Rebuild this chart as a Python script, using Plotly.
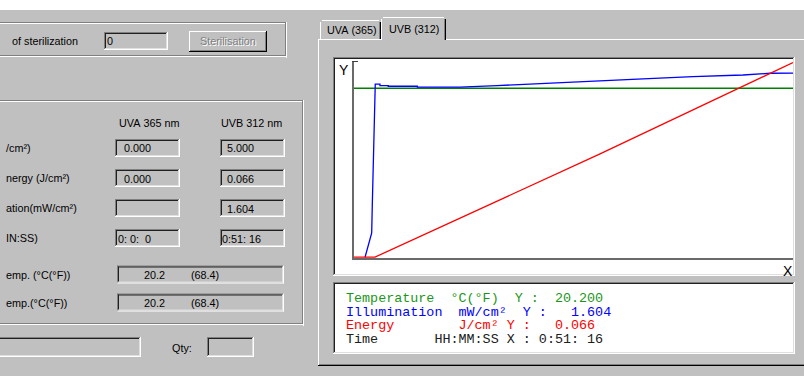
import plotly.graph_objects as go

W, H = 804, 376

# ---------------- data ----------------
temp_time = [0, 3076]
temperature = [20.2, 20.2]

illum_time = [77, 124, 128, 135, 142, 149, 182, 182, 240, 240, 444, 444, 603,
              743, 1002, 1324, 1675, 2025, 2375, 2726, 2915, 3076]
illumination = [0, 0.214, 0.445, 0.865, 1.298, 1.507, 1.507, 1.495, 1.495, 1.489,
                1.489, 1.481, 1.481, 1.481, 1.495, 1.512, 1.529, 1.553, 1.573,
                1.587, 1.602, 1.604]

energy_time = [0, 147, 1724, 3076]
energy = [0, 0, 0.0350, 0.066]

row_labels = ["/cm²)", "nergy (J/cm²)", "ation(mW/cm²)", "IN:SS)"]
uva_values = ["0.000", "0.000", "", "0: 0:  0"]
uvb_values = ["5.000", "0.066", "1.604", "0:51: 16"]
temp_labels = ["emp. (°C(°F))", "emp.(°C(°F))"]
temp_c = ["20.2", "20.2"]
temp_f = ["(68.4)", "(68.4)"]
tab_labels = ["UVA (365)", "UVB (312)"]

legend_lines = [
    ("Temperature  °C(°F)  Y :  20.200", "#1a961a"),
    ("Illumination  mW/cm²  Y :   1.604", "#0000ff"),
    ("Energy        J/cm² Y :   0.066", "#ff0000"),
    ("Time       HH:MM:SS X : 0:51: 16", "#202020"),
]

# ---------------- helpers ----------------
shapes = []
annos = []
UI = "Liberation Sans"
MONO = "Liberation Mono"


def px(x):
    return x / W


def py(y):
    return 1 - y / H


def rect(x0, y0, x1, y1, fill, layer="below"):
    shapes.append(dict(type="rect", xref="paper", yref="paper",
                       x0=px(x0), x1=px(x1), y0=py(y0), y1=py(y1),
                       fillcolor=fill, line=dict(width=0), layer=layer))


def line(x0, y0, x1, y1, color, w=1, layer="below"):
    shapes.append(dict(type="line", xref="paper", yref="paper",
                       x0=px(x0), x1=px(x1), y0=py(y0), y1=py(y1),
                       line=dict(color=color, width=w), layer=layer))


def sunken(x0, y0, x1, y1, fill="#c0c0c0"):
    rect(x0, y0, x1, y1, fill)
    line(x0, y0 + 0.5, x1, y0 + 0.5, "#808080")
    line(x0 + 0.5, y0, x0 + 0.5, y1, "#808080")
    line(x0 + 1, y0 + 1.5, x1 - 1, y0 + 1.5, "#202020")
    line(x0 + 1.5, y0 + 1, x0 + 1.5, y1 - 1, "#202020")
    line(x0, y1 - 0.5, x1, y1 - 0.5, "#ffffff")
    line(x1 - 0.5, y0, x1 - 0.5, y1, "#ffffff")
    line(x0 + 1, y1 - 1.5, x1 - 1, y1 - 1.5, "#dfdfdf")
    line(x1 - 1.5, y0 + 1, x1 - 1.5, y1 - 1, "#dfdfdf")


def raised(x0, y0, x1, y1):
    rect(x0, y0, x1, y1, "#c0c0c0")
    line(x0, y0 + 0.5, x1, y0 + 0.5, "#ffffff")
    line(x0 + 0.5, y0, x0 + 0.5, y1, "#ffffff")
    line(x0, y1 - 0.5, x1, y1 - 0.5, "#000000")
    line(x1 - 0.5, y0, x1 - 0.5, y1, "#000000")
    line(x0 + 1, y1 - 1.5, x1 - 1, y1 - 1.5, "#808080")
    line(x1 - 1.5, y0 + 1, x1 - 1.5, y1 - 1, "#808080")


def etched_group(x0, y0, x1, y1):
    line(x0, y0 + 0.5, x1, y0 + 0.5, "#808080")
    line(x0, y0 + 1.5, x1 - 1, y0 + 1.5, "#ffffff")
    line(x1 - 1.5, y0, x1 - 1.5, y1, "#808080")
    line(x1 - 0.5, y0, x1 - 0.5, y1 + 1, "#ffffff")
    line(x0, y1 - 1.5, x1 - 1, y1 - 1.5, "#808080")
    line(x0, y1 - 0.5, x1, y1 - 0.5, "#ffffff")


def text(x, y, s, size=10.8, color="#000000", anchor="left", font=UI):
    annos.append(dict(xref="paper", yref="paper", x=px(x), y=py(y),
                      text=s.replace(" ", "\u00a0"), showarrow=False,
                      xanchor=anchor, yanchor="middle", borderpad=0,
                      font=dict(family=font, size=size, color=color)))


# ---------------- window chrome ----------------
rect(0, 0, W, 10, "#ffffff")

# sterilisation group
etched_group(-5, 22, 287, 57)
text(11, 41, "of sterilization")
sunken(104, 32, 168, 50)
text(106, 41, "0")
raised(189, 31, 267, 52)
text(229, 42.5, "Sterilisation", color="#ffffff", anchor="center")
text(228, 41.5, "Sterilisation", color="#808080", anchor="center")

# values group
etched_group(-5, 100, 304, 325)
text(149, 122.5, "UVA 365 nm", anchor="center")
text(251, 122.5, "UVB 312 nm", anchor="center")
for i, lab in enumerate(row_labels):
    yc = 148 + 30 * i
    text(5, yc, lab)
    sunken(115, yc - 9, 180, yc + 9)
    sunken(220, yc - 9, 285, yc + 9)
    if uva_values[i]:
        text(117 if ":" in uva_values[i] else 123, yc + 0.5, uva_values[i])
    text(221 if ":" in uvb_values[i] else 225.5, yc + 0.5, uvb_values[i])
for i, lab in enumerate(temp_labels):
    yc = 274.5 + 28 * i
    text(5, yc, lab)
    sunken(117, yc - 9, 284, yc + 9)
    text(143, yc + 0.5, temp_c[i])
    text(190, yc + 0.5, temp_f[i])

# bottom row
sunken(-4, 337, 141, 357)
text(171, 348, "Qty:")
sunken(207, 337, 254, 357)

# ---------------- tab control ----------------
line(318.5, 39, 318.5, 365, "#ffffff")
line(318, 39.5, W, 39.5, "#ffffff")
line(319, 364.5, W, 364.5, "#808080")
line(318, 365.5, W, 365.5, "#000000")
# UVA tab (inactive)
line(320.5, 22, 320.5, 39, "#ffffff")
line(322, 20.5, 379, 20.5, "#ffffff")
line(379.5, 22, 379.5, 39, "#808080")
line(380.5, 22, 380.5, 39, "#000000")
text(351.5, 30, tab_labels[0], anchor="center")
# UVB tab (active)
rect(382, 18, 445, 41, "#c0c0c0")
line(381.5, 19, 381.5, 40, "#ffffff")
line(383, 17.5, 444, 17.5, "#ffffff")
line(444.5, 19, 444.5, 40, "#808080")
line(445.5, 19, 445.5, 40, "#000000")
text(413.5, 28.5, tab_labels[1], anchor="center")

# chart box and legend box
sunken(333, 57, 795, 276, fill="#ffffff")
sunken(333, 282, 795, 354, fill="#ffffff")

# axis top tick, axis letters
line(352, 61.5, 358, 61.5, "#404040", w=1, layer="above")
text(343.5, 70, "Y", size=14, anchor="center")
text(788, 271, "X", size=14, anchor="center")

for i, (s, c) in enumerate(legend_lines):
    text(345, 298.5 + 13.6 * i, s, size=13.4, color=c, font=MONO)

# ---------------- chart ----------------
fig = go.Figure()
fig.add_trace(go.Scatter(x=temp_time, y=temperature, mode="lines",
                         line=dict(color="#008000", width=1.3), yaxis="y"))
fig.add_trace(go.Scatter(x=energy_time, y=energy, mode="lines",
                         line=dict(color="#ff0000", width=1.3), yaxis="y3"))
fig.add_trace(go.Scatter(x=illum_time, y=illumination, mode="lines",
                         line=dict(color="#0000ff", width=1.3), yaxis="y2"))

x_dom = [354 / W, 793 / W]
y_dom = [1 - 258 / H, 1 - 62 / H]

fig.update_layout(
    width=W, height=H,
    margin=dict(l=0, r=0, t=0, b=0),
    paper_bgcolor="#c0c0c0",
    plot_bgcolor="rgba(0,0,0,0)",
    showlegend=False,
    shapes=shapes,
    annotations=annos,
    xaxis=dict(domain=x_dom, range=[0, 3076], showgrid=False, zeroline=False,
               showticklabels=False, ticks="", showline=True,
               linecolor="#6a6a6a", linewidth=2, layer="below traces",
               fixedrange=True),
    yaxis=dict(domain=y_dom, range=[-0.06, 23.33], showgrid=False,
               zeroline=False, showticklabels=False, ticks="", showline=True,
               linecolor="#6a6a6a", linewidth=2, layer="below traces",
               fixedrange=True),
    yaxis2=dict(overlaying="y", range=[-0.005, 1.70], visible=False,
                fixedrange=True),
    yaxis3=dict(overlaying="y", range=[-0.0003, 0.0662], visible=False,
                fixedrange=True),
)

fig.write_html("out.html", config={"displayModeBar": False},
               post_script="document.body.style.margin='0';"
                           "document.body.style.overflow='hidden';")
